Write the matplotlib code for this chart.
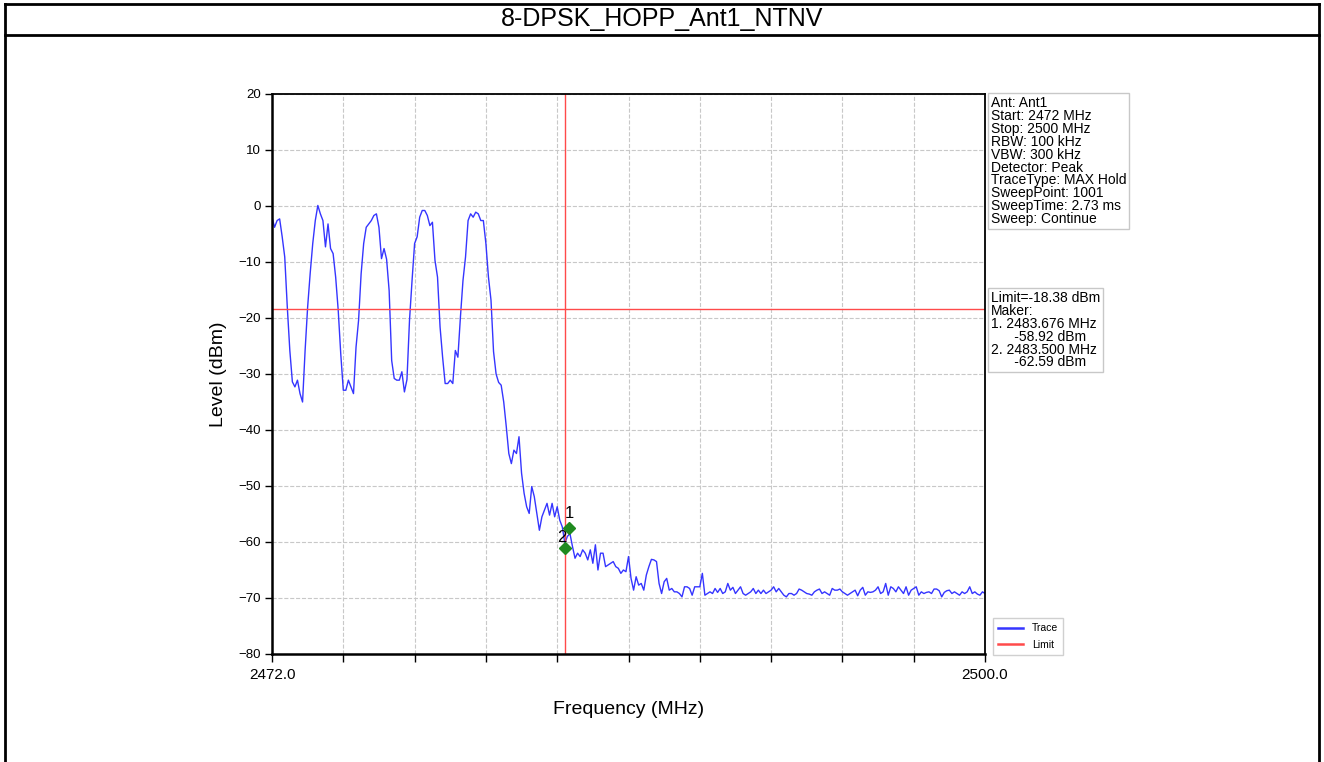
import numpy as np
import matplotlib.pyplot as plt
from matplotlib.lines import Line2D

plt.rcParams['font.family'] = ['Liberation Sans', 'DejaVu Sans']

W, H = 1324, 762

title = "8-DPSK_HOPP_Ant1_NTNV"
f_start, f_stop = 2472.0, 2500.0
limit_level = -18.38
marker_freqs = [2483.676, 2483.500]
marker_levels = [-57.5, -61.1]   # where the diamonds sit on the picture
marker_names = ['1', '2']

# trace levels (dBm), one value every 0.1 MHz from 2472 to 2500 MHz
trace_levels = [
    -2.0, -3.8, -2.6, -2.3, -5.5, -9.1, -18.0, -25.8, -31.4, -32.3,
    -31.1, -33.5, -35.0, -25.8, -18.0, -12.0, -6.7, -2.6, 0.1, -1.4,
    -2.6, -7.3, -3.2, -7.6, -8.5, -12.7, -18.6, -26.4, -32.9, -32.9,
    -31.1, -32.3, -33.5, -25.2, -20.4, -12.1, -6.7, -3.8, -3.2, -2.6,
    -1.7, -1.4, -3.8, -9.4, -7.6, -9.5, -15.1, -27.6, -30.8, -31.1,
    -31.1, -29.6, -33.2, -31.0, -20.4, -13.3, -6.7, -5.5, -2.0, -0.8,
    -0.8, -1.7, -3.5, -2.9, -9.7, -12.7, -21.6, -27.0, -31.7, -31.7,
    -31.1, -31.7, -25.8, -27.0, -19.8, -13.3, -9.1, -2.6, -1.4, -2.0,
    -1.1, -1.4, -2.6, -2.6, -6.7, -12.7, -16.8, -26.0, -30.0, -31.5,
    -32.0, -35.0, -39.4, -44.2, -46.0, -43.6, -44.2, -41.2, -47.7, -51.3,
    -53.7, -54.9, -50.1, -51.9, -54.9, -57.9, -55.5, -54.3, -53.1, -55.2,
    -53.1, -55.5, -53.7, -56.1, -57.3, -60.2, -59.0, -58.5, -60.8, -62.9,
    -62.0, -62.6, -61.4, -62.0, -63.2, -61.4, -63.8, -60.5, -65.0, -62.0,
    -62.0, -64.4, -64.1, -63.8, -63.5, -64.4, -64.7, -65.6, -65.0, -65.3,
    -62.6, -66.5, -68.6, -66.2, -67.7, -67.4, -68.6, -65.9, -64.4, -63.1,
    -63.2, -63.5, -67.4, -69.2, -67.1, -66.5, -68.6, -68.3, -68.9, -68.9,
    -69.2, -69.8, -68.0, -68.0, -68.3, -69.5, -68.0, -68.0, -68.0, -65.6,
    -69.5, -69.2, -68.9, -69.2, -68.3, -69.0, -68.3, -69.2, -68.9, -67.4,
    -68.6, -68.1, -69.2, -68.6, -68.0, -69.2, -69.5, -69.2, -68.9, -68.3,
    -69.2, -68.6, -69.2, -68.6, -69.2, -68.9, -68.6, -68.0, -68.9, -68.3,
    -68.9, -69.5, -69.8, -69.2, -69.2, -69.5, -69.2, -68.4, -68.6, -68.9,
    -69.2, -69.3, -69.5, -68.9, -68.6, -68.4, -69.2, -68.9, -69.2, -69.5,
    -68.3, -68.6, -68.6, -68.4, -68.9, -69.2, -69.5, -69.2, -68.9, -68.6,
    -69.6, -68.6, -68.1, -69.5, -68.9, -69.0, -68.9, -68.6, -68.0, -69.2,
    -68.9, -67.4, -69.5, -68.0, -68.3, -68.9, -68.0, -68.6, -69.2, -68.0,
    -69.5, -68.6, -68.3, -68.0, -69.5, -68.9, -69.2, -69.0, -68.9, -69.2,
    -68.4, -68.4, -68.7, -69.8, -69.0, -68.7, -68.6, -69.2, -68.9, -69.2,
    -69.5, -68.9, -69.2, -68.9, -68.0, -69.2, -68.9, -69.3, -69.5, -68.9,
    -69.2,
]
trace_freqs = np.linspace(f_start, f_stop, len(trace_levels))

info_lines = [
    "Ant: Ant1",
    "Start: 2472 MHz",
    "Stop: 2500 MHz",
    "RBW: 100 kHz",
    "VBW: 300 kHz",
    "Detector: Peak",
    "TraceType: MAX Hold",
    "SweepPoint: 1001",
    "SweepTime: 2.73 ms",
    "Sweep: Continue",
]
marker_lines = [
    "Limit=-18.38 dBm",
    "Maker:",
    "1. 2483.676 MHz",
    "      -58.92 dBm",
    "2. 2483.500 MHz",
    "      -62.59 dBm",
]


def fx(x):
    return x / W


def fy(y):
    return 1 - y / H


fig = plt.figure(figsize=(W / 100, H / 100), dpi=100)

# outer frame and title row
for xs, ys in [([5, 5], [4, 770]), ([1319, 1319], [4, 770]),
               ([5, 1319], [4, 4]), ([5, 1319], [35, 35])]:
    fig.add_artist(Line2D([fx(v) for v in xs], [fy(v) for v in ys],
                          color='black', lw=2, transform=fig.transFigure))
fig.text(fx(662), fy(19), title, ha='center', va='center', fontsize=18)

ax = fig.add_axes([fx(272), fy(654), 713 / W, 560 / H])

ax.plot(trace_freqs, trace_levels, color='#3535ff', lw=1.0, label='Trace')
ax.axhline(limit_level, color='#ff4a4a', lw=1.0, label='Limit')
ax.axvline(marker_freqs[1], color='#ff4a4a', lw=1.0)
ax.plot(marker_freqs, marker_levels, 'D', color='#1f8a1f', ms=6, zorder=5)
ax.annotate(marker_names[0], (marker_freqs[0], marker_levels[0]), xytext=(0, 14),
            textcoords='offset pixels', ha='center', va='center', fontsize=12)
ax.annotate(marker_names[1], (marker_freqs[1], marker_levels[1]), xytext=(-3, 11),
            textcoords='offset pixels', ha='center', va='center', fontsize=12)

ax.set_xlim(f_start, f_stop)
ax.set_ylim(-80, 20)
xt = np.linspace(f_start, f_stop, 11)
ax.set_xticks(xt)
ax.set_xticklabels(['2472.0'] + [''] * 9 + ['2500.0'])
ax.set_yticks(np.arange(-80, 21, 10))
ax.tick_params(axis='x', direction='out', length=6, width=1, labelsize=11, pad=4)
ax.tick_params(axis='y', direction='out', length=5, width=1, labelsize=9.5, pad=3)
ax.grid(True, color='#c8c8c8', ls='--', lw=0.8)
for s in ax.spines.values():
    s.set_color('black')
    s.set_linewidth(1.3)
ax.spines['left'].set_linewidth(1.8)
ax.spines['bottom'].set_linewidth(1.8)

ax.set_xlabel('Frequency (MHz)', fontsize=14, labelpad=14)
ax.set_ylabel('Level (dBm)', fontsize=14, labelpad=8)

box = dict(boxstyle='square,pad=0.2', fc='white', ec='#c8c8c8', lw=1)
fig.text(fx(991), fy(96), "\n".join(info_lines), ha='left', va='top',
         fontsize=10, linespacing=0.9, bbox=box)
fig.text(fx(991), fy(291), "\n".join(marker_lines), ha='left', va='top',
         fontsize=10, linespacing=0.9, bbox=box)

leg = ax.legend(loc='upper left', bbox_to_anchor=(fx(988), fy(613)),
                bbox_transform=fig.transFigure, fontsize=7.5, handlelength=2.4,
                labelspacing=0.6, borderpad=0.5, handletextpad=0.8,
                fancybox=False, edgecolor='#d0d0d0', framealpha=1)
leg.get_frame().set_linewidth(1)
for line in leg.get_lines():
    line.set_linewidth(1.8)

fig.savefig('out.png', dpi=100)
